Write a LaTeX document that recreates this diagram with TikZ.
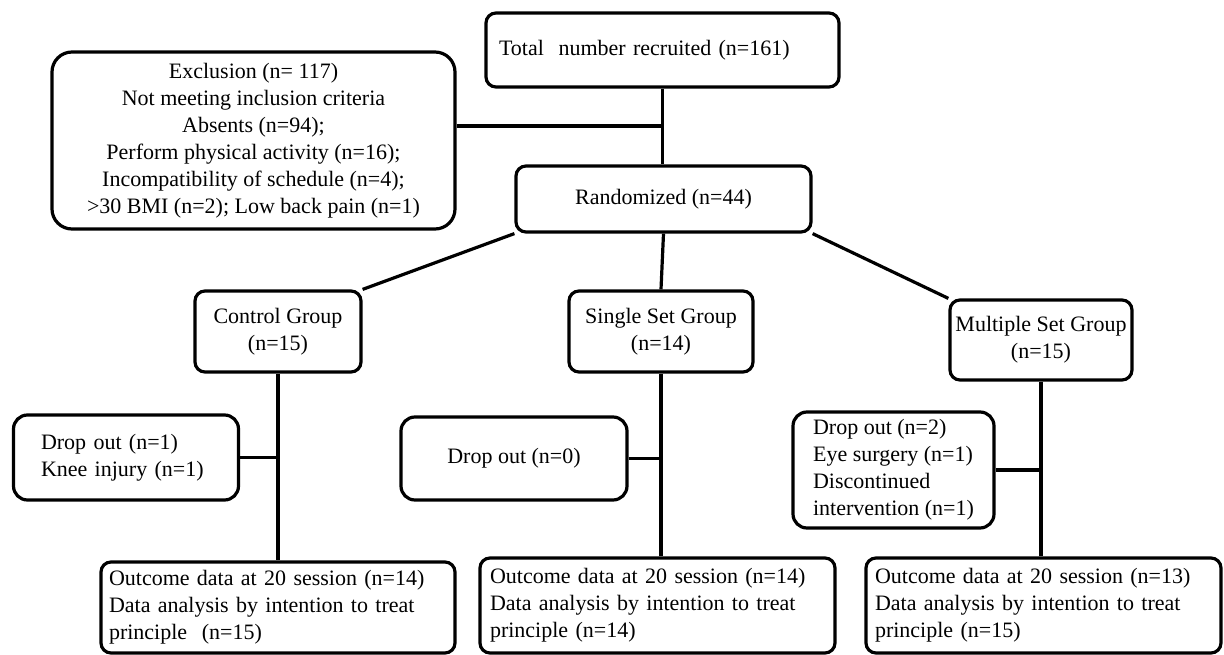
\documentclass[tikz,border=0pt]{standalone}
\usepackage{fontspec}
\setmainfont{Liberation Serif}
\begin{document}
\begin{tikzpicture}[x=1pt,y=-1pt,
    box/.style={draw, line width=3.2pt, rounded corners=10pt, inner sep=0pt, font=\fontsize{22}{27}\selectfont},
    link/.style={line width=3.2pt}]
          \useasboundingbox (0,0) rectangle (1224,655);
          \node [box, minimum width=353pt, minimum height=74pt, text width=327pt, align=left] (TOT) at (662.5, 50) {Total~ number recruited (n=161)};
          \node [box, rounded corners=20pt, minimum width=403pt, minimum height=177pt, align=center] (EX) at (253.5, 140.5) {Exclusion (n= 117)\\ Not meeting inclusion criteria\\ Absents (n=94);\\ Perform physical activity (n=16);\\ Incompatibility of schedule (n=4);\\ >30 BMI (n=2); Low back pain (n=1)};
          \node [box, minimum width=295pt, minimum height=66pt] (RAND) at (663.5, 199) {Randomized (n=44)};
          \node [box, minimum width=166pt, minimum height=81pt, align=center] (CG) at (278, 331.5) {Control Group\\ (n=15)};
          \node [box, minimum width=184pt, minimum height=81pt, align=center] (SG) at (661, 331.5) {Single Set Group\\ (n=14)};
          \node [box, minimum width=182pt, minimum height=80pt, align=center] (MG) at (1041, 340) {Multiple Set Group\\ (n=15)};
          \node [box, rounded corners=14pt, minimum width=225pt, minimum height=85pt, text width=170pt, align=left] (DC) at (126, 457.5) {Drop out (n=1)\\ Knee injury (n=1)};
          \node [box, rounded corners=14pt, minimum width=226pt, minimum height=83pt] (DS) at (514, 458.5) {Drop out (n=0)};
          \node [box, rounded corners=14pt, minimum width=201pt, minimum height=116pt, align=left] (DM) at (893.5, 470) {Drop out (n=2)\\ Eye surgery (n=1)\\ Discontinued\\ intervention (n=1)};
          \node [box, minimum width=354pt, minimum height=91pt, text width=338pt, align=left] (OC) at (278, 607.5) {Outcome data at 20 session (n=14)\\ Data analysis by intention to treat\\ principle~ (n=15)};
          \node [box, minimum width=355pt, minimum height=95pt, text width=335pt, align=left] (OS) at (657.5, 605.5) {Outcome data at 20 session (n=14)\\ Data analysis by intention to treat\\ principle (n=14)};
          \node [box, minimum width=355pt, minimum height=95pt, text width=337pt, align=left] (OM) at (1043.5, 605.5) {Outcome data at 20 session (n=13)\\ Data analysis by intention to treat\\ principle (n=15)};
          \coordinate (J) at (663, 126);
          \draw [link] (TOT.south) -- (TOT.south |- RAND.north);
          \draw [link] (EX.east |- J) -- (J);
          \draw [link] (RAND.south west) -- (CG.north east);
          \draw [link] (RAND.south) -- (SG.north);
          \draw [link] (RAND.south east) -- (MG.north west);
          \draw [link] (CG.south) -- (OC.north);
          \draw [link] (DC.east) -- (DC.east -| CG.south);
          \draw [link] (SG.south) -- (SG.south |- OS.north);
          \draw [link] (DS.east) -- (DS.east -| SG.south);
          \draw [link] (MG.south) -- (MG.south |- OM.north);
          \draw [link] (DM.east) -- (DM.east -| MG.south);
  \end{tikzpicture}
\end{document}
